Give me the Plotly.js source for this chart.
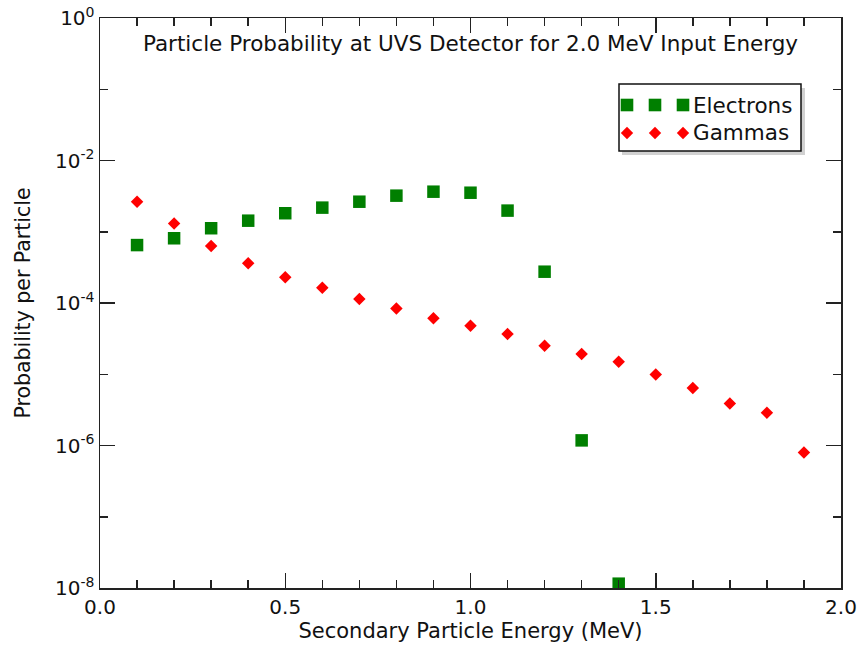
<!DOCTYPE html>
<html>
<head>
<meta charset="utf-8">
<script src="https://cdn.plot.ly/plotly-3.0.1.min.js"></script>
<style>body{margin:0;background:#fff;}#chart{width:862px;height:654px;}</style>
</head>
<body>
<div id="chart"></div>
<script>
// ---- data ----
const energies = [0.1, 0.2, 0.3, 0.4, 0.5, 0.6, 0.7, 0.8, 0.9, 1.0, 1.1, 1.2, 1.3, 1.4, 1.5, 1.6, 1.7, 1.8, 1.9];
const electronEnergy = [0.1, 0.2, 0.3, 0.4, 0.5, 0.6, 0.7, 0.8, 0.9, 1.0, 1.1, 1.2, 1.3, 1.4];
const electronProb = [6.5e-4, 8.1e-4, 1.12e-3, 1.43e-3, 1.82e-3, 2.18e-3, 2.64e-3, 3.21e-3, 3.65e-3, 3.53e-3, 1.98e-3, 2.75e-4, 1.18e-6, 1.15e-8];
const gammaEnergy = energies;
const gammaProb = [2.64e-3, 1.31e-3, 6.3e-4, 3.6e-4, 2.29e-4, 1.64e-4, 1.14e-4, 8.4e-5, 6.1e-5, 4.8e-5, 3.67e-5, 2.52e-5, 1.92e-5, 1.5e-5, 9.9e-6, 6.4e-6, 3.9e-6, 2.88e-6, 8.0e-7];
const xTickVals = [0, 0.5, 1.0, 1.5, 2.0];
const xTickText = ['0.0', '0.5', '1.0', '1.5', '2.0'];
const yTickVals = [1e-8, 1e-6, 1e-4, 1e-2, 1];
const yTickText = ['10<sup>-8</sup>', '10<sup>-6</sup>', '10<sup>-4</sup>', '10<sup>-2</sup>', '10<sup>0</sup>'];
const yMinorVals = [1e-7, 1e-5, 1e-3, 1e-1];
const seriesNames = ['Electrons', 'Gammas'];

const GREEN = '#007f00';
const RED = '#ff0000';
const AX = '#222222';
const FONT = 'DejaVu Sans, Arial, sans-serif';

const traces = [
  {x: electronEnergy, y: electronProb, mode: 'markers', type: 'scatter', name: seriesNames[0],
   marker: {symbol: 'square', size: 12.5, color: GREEN}, cliponaxis: true},
  {x: gammaEnergy, y: gammaProb, mode: 'markers', type: 'scatter', name: seriesNames[1],
   marker: {symbol: 'diamond', size: 9.6, color: RED}, cliponaxis: true}
];

// plot area geometry (pixels)
const L = 100, R = 21, T = 18, B = 66, W = 862, H = 654;
const PW = W - L - R, PH = H - T - B;
const px = v => (v - L) / PW;
const py = v => 1 - (v - T) / PH;

const shapes = [];
// legend shadow + box
shapes.push({type: 'rect', xref: 'paper', yref: 'paper', x0: px(622), x1: px(805), y0: py(88), y1: py(155),
  fillcolor: 'rgba(0,0,0,0.18)', line: {width: 0}, layer: 'above'});
shapes.push({type: 'rect', xref: 'paper', yref: 'paper', x0: px(619), x1: px(801), y0: py(84), y1: py(151),
  fillcolor: '#ffffff', line: {color: '#111', width: 1.5}, layer: 'above'});
// legend samples
const sampleX = [627, 655, 683];
sampleX.forEach(sx => {
  shapes.push({type: 'rect', xref: 'paper', yref: 'paper', xsizemode: 'pixel', ysizemode: 'pixel',
    xanchor: px(sx), yanchor: py(105), x0: -6.3, x1: 6.3, y0: -6.3, y1: 6.3,
    fillcolor: GREEN, line: {width: 0}, layer: 'above'});
  shapes.push({type: 'path', xref: 'paper', yref: 'paper', xsizemode: 'pixel', ysizemode: 'pixel',
    xanchor: px(sx), yanchor: py(133), path: 'M -6.2 0 L 0 6.2 L 6.2 0 L 0 -6.2 Z',
    fillcolor: RED, line: {width: 0}, layer: 'above'});
});

const annotations = [
  {xref: 'paper', yref: 'paper', x: px(691), y: py(105), xanchor: 'left', yanchor: 'middle', showarrow: false,
   text: seriesNames[0], font: {family: FONT, size: 21.5, color: '#111'}},
  {xref: 'paper', yref: 'paper', x: px(691), y: py(133), xanchor: 'left', yanchor: 'middle', showarrow: false,
   text: seriesNames[1], font: {family: FONT, size: 21.5, color: '#111'}}
];

const layout = {
  width: W, height: H,
  margin: {l: L, r: R, t: T, b: B, pad: 0},
  paper_bgcolor: '#fff', plot_bgcolor: '#fff',
  showlegend: false,
  font: {family: FONT, size: 20, color: '#111'},
  title: {text: 'Particle Probability at UVS Detector for 2.0 MeV Input Energy',
          font: {family: FONT, size: 21.5, color: '#111'},
          xref: 'paper', x: 0.5, xanchor: 'center', yref: 'container', y: 1 - 43 / H, yanchor: 'middle'},
  xaxis: {
    range: [0, 2], showgrid: false, zeroline: false,
    showline: true, linecolor: AX, linewidth: 1.5, mirror: 'allticks',
    ticks: 'inside', ticklen: 15, tickwidth: 1.5, tickcolor: AX,
    tickvals: xTickVals, ticktext: xTickText, tickfont: {family: FONT, size: 20, color: '#111'},
    minor: {dtick: 0.1, ticks: 'inside', ticklen: 8, tickwidth: 1.5, tickcolor: AX, showgrid: false},
    title: {text: 'Secondary Particle Energy (MeV)', font: {family: FONT, size: 21, color: '#111'}, standoff: 6},
    automargin: false
  },
  yaxis: {
    type: 'log', range: [-8, 0], showgrid: false, zeroline: false,
    showline: true, linecolor: AX, linewidth: 1.5, mirror: 'allticks',
    ticks: 'inside', ticklen: 15, tickwidth: 1.5, tickcolor: AX,
    tickvals: yTickVals, ticktext: yTickText, tickfont: {family: FONT, size: 20, color: '#111'},
    minor: {tickvals: yMinorVals, ticks: 'inside', ticklen: 8, tickwidth: 1.5, tickcolor: AX, showgrid: false},
    title: {text: 'Probability per Particle', font: {family: FONT, size: 20.5, color: '#111'}, standoff: 19},
    automargin: false
  },
  shapes: shapes,
  annotations: annotations
};

Plotly.newPlot('chart', traces, layout, {displayModeBar: false, staticPlot: true});
</script>
</body>
</html>
